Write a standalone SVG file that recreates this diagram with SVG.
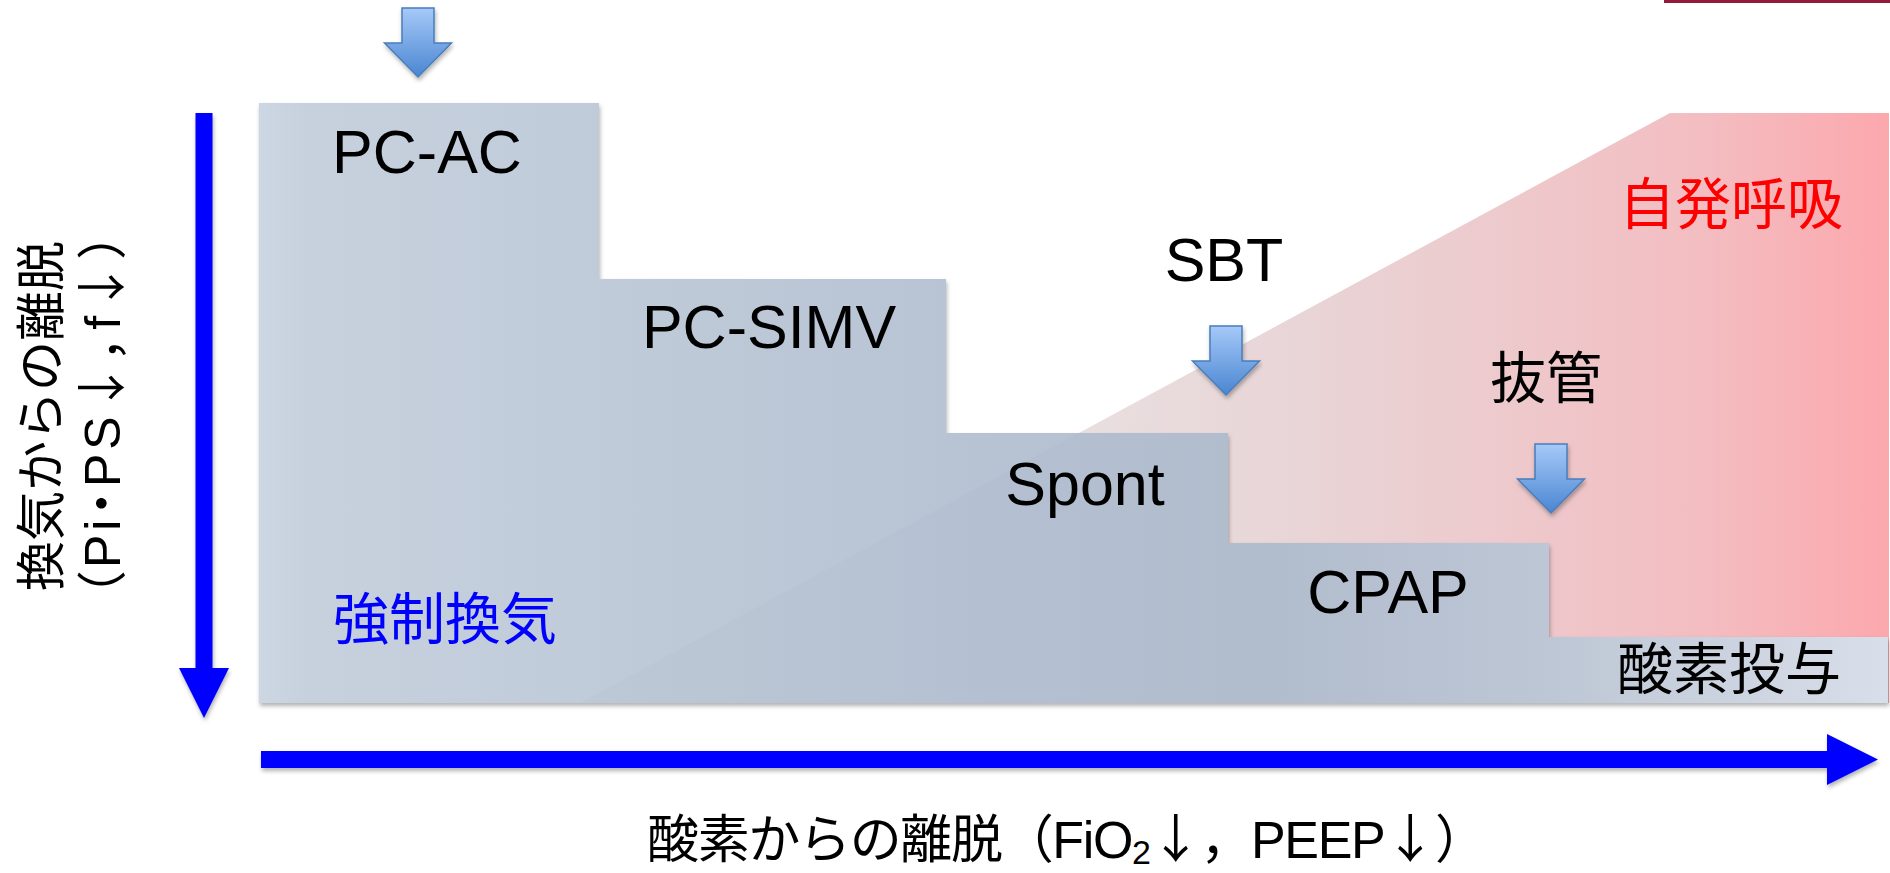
<svg xmlns="http://www.w3.org/2000/svg" width="1890" height="873" viewBox="0 0 1890 873">
  <style>
    .lat { font-family: "Liberation Sans", "Noto Sans CJK JP", sans-serif; font-size: 61px; fill: #000; text-anchor: middle; }
    .cjk { font-family: "Noto Sans CJK JP", sans-serif; font-size: 56px; text-anchor: middle; }
    .axl { font-family: "Liberation Sans", "Noto Sans CJK JP", sans-serif; fill: #000; }
    .palt { font-feature-settings: "palt"; }
    .jp { font-family: "Noto Sans CJK JP", sans-serif; }
    .blk { fill: #000; }
  </style>
  <defs>
    <linearGradient id="gGray" gradientUnits="userSpaceOnUse" x1="259" y1="0" x2="1888" y2="0">
      <stop offset="0" stop-color="#CDD7E3"/>
      <stop offset="0.03" stop-color="#C7D1DE"/>
      <stop offset="0.45" stop-color="#B7C3D3"/>
      <stop offset="0.62" stop-color="#B4BFCF"/>
      <stop offset="0.8" stop-color="#C1CAD8"/>
      <stop offset="1" stop-color="#DCE3ED"/>
    </linearGradient>
    <linearGradient id="gPink" gradientUnits="userSpaceOnUse" x1="580" y1="0" x2="1889" y2="0">
      <stop offset="0" stop-color="#E4E4EA"/>
      <stop offset="0.38" stop-color="#E9DFE0"/>
      <stop offset="0.54" stop-color="#E8D5D7"/>
      <stop offset="0.7" stop-color="#EDCACD"/>
      <stop offset="0.86" stop-color="#F3BDC1"/>
      <stop offset="1" stop-color="#FCA8AD"/>
    </linearGradient>
    <linearGradient id="gArrow" x1="0" y1="0" x2="0" y2="1">
      <stop offset="0" stop-color="#A6C9F8"/>
      <stop offset="1" stop-color="#4A86D2"/>
    </linearGradient>
    <filter id="shadow" x="-5%" y="-5%" width="110%" height="115%">
      <feDropShadow dx="1" dy="3" stdDeviation="2" flood-color="#000" flood-opacity="0.3"/>
    </filter>
    <clipPath id="stairClip">
      <polygon points="259,103 599,103 599,279 946,279 946,433 1228,433 1228,543 1549,543 1549,637 1888,637 1888,703 259,703"/>
    </clipPath>
    <path id="dnArrow" d="M-16,0 H16 V35 H33.5 L0,69 L-33.5,35 H-16 Z" fill="url(#gArrow)" stroke="#4A7EBB" stroke-width="1.5" stroke-linejoin="miter"/>
  </defs>

  <rect x="0" y="0" width="1890" height="873" fill="#FFFFFF"/>
  <!-- top-right accent line -->
  <rect x="1664" y="0" width="226" height="3" fill="#931A3B"/>

  <g id="spontaneous-region">
    <polygon points="580,703 1670,113 1889,113 1889,703" fill="url(#gPink)"/>
  </g>

  <g id="ventilation-steps">
    <polygon points="259,103 599,103 599,279 946,279 946,433 1228,433 1228,543 1549,543 1549,637 1888,637 1888,703 259,703" fill="url(#gGray)" filter="url(#shadow)"/>
    <polygon points="580,703 1670,113 1889,113 1889,703" fill="#4A5A78" opacity="0.025" clip-path="url(#stairClip)"/>
  </g>

  <g id="node-pc-ac"><text class="lat" x="427" y="173">PC-AC</text></g>
  <g id="node-pc-simv"><text class="lat" x="769" y="348">PC-SIMV</text></g>
  <g id="node-spont"><text class="lat" x="1085" y="505">Spont</text></g>
  <g id="node-cpap"><text class="lat" x="1388" y="613">CPAP</text></g>
  <g id="node-sbt"><text class="lat" x="1224" y="281">SBT</text></g>
  <g id="node-forced"><text class="cjk" x="445" y="639" fill="#0000FF">強制換気</text></g>
  <g id="node-spontaneous"><text class="cjk" x="1731" y="224" fill="#FF0000">自発呼吸</text></g>
  <g id="node-extubation"><text class="cjk" x="1546" y="398" fill="#000">抜管</text></g>
  <g id="node-oxygen"><text class="cjk" x="1729" y="689" fill="#000">酸素投与</text></g>

  <g id="marker-start"><use href="#dnArrow" transform="translate(418,8)" filter="url(#shadow)"/></g>
  <g id="marker-sbt"><use href="#dnArrow" transform="translate(1226,326)" filter="url(#shadow)"/></g>
  <g id="marker-extubation"><use href="#dnArrow" transform="translate(1551,444)" filter="url(#shadow)"/></g>

  <g id="connectors">
    <path d="M195.5,113 H212.5 V668 H229 L204,718 L179,668 H195.5 Z" fill="#0000FF" filter="url(#shadow)"/>
    <path d="M261,751 H1827 V734 L1878,759.5 L1827,785 V768 H261 Z" fill="#0000FF" filter="url(#shadow)"/>
  </g>

  <g id="axis-y-label">
    <text class="jp blk" font-size="50" text-anchor="middle" transform="translate(59,416) rotate(-90)">換気からの離脱</text>
    <text class="axl palt" font-size="50" text-anchor="middle" textLength="364" lengthAdjust="spacing" transform="translate(120,415) rotate(-90)">（Pi・PS<tspan class="jp">↓</tspan>，f<tspan class="jp">↓</tspan>）</text>
  </g>
  <g id="axis-x-label">
    <text class="axl" font-size="52" x="647" y="858" textLength="840" lengthAdjust="spacing"><tspan class="jp">酸素からの離脱（</tspan>FiO<tspan font-size="34" dy="6">2</tspan><tspan class="jp" dy="-6">↓，</tspan>PEEP<tspan class="jp">↓）</tspan></text>
  </g>
</svg>
